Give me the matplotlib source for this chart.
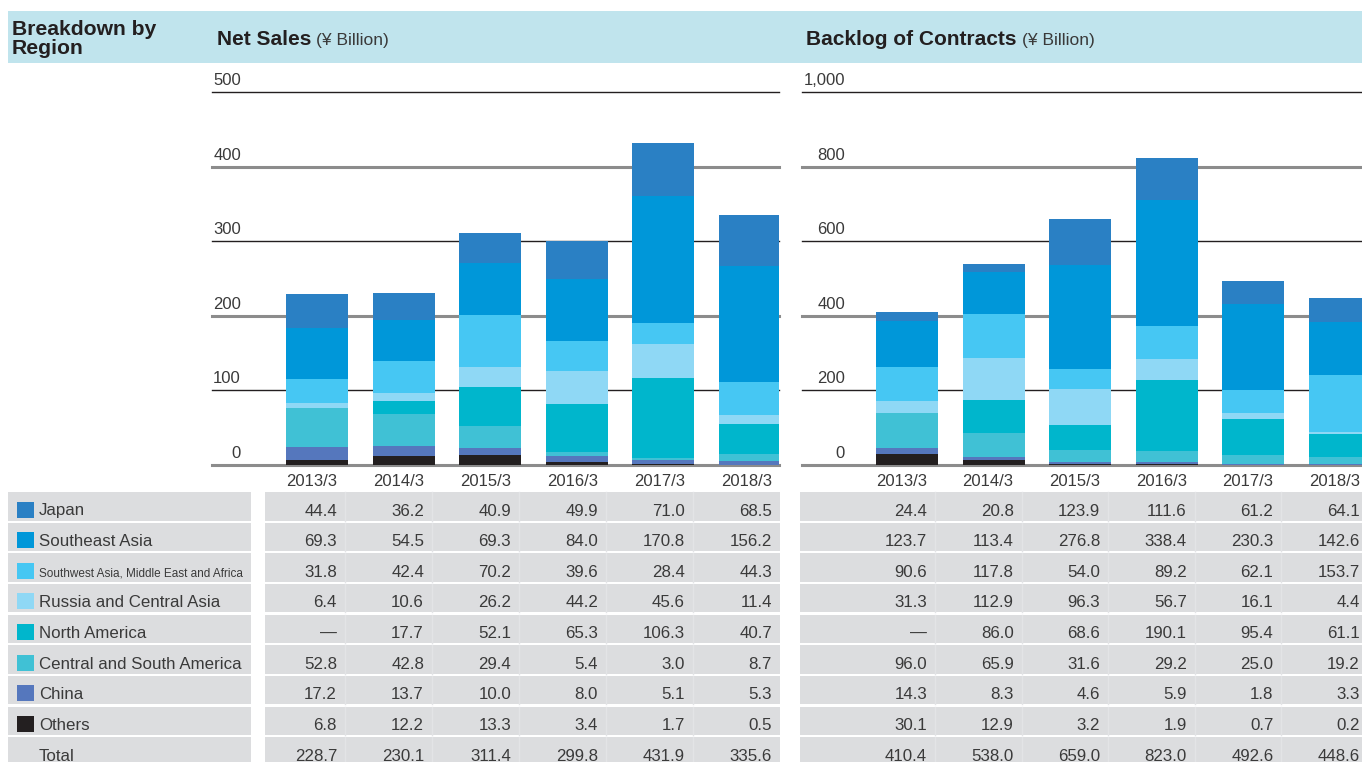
import matplotlib
matplotlib.use("Agg")
import matplotlib.pyplot as plt
import matplotlib.transforms as mtransforms
from matplotlib.patches import Rectangle

plt.rcParams["font.family"] = ["Liberation Sans", "DejaVu Sans"]

W, H = 1362, 762

years = ["2013/3", "2014/3", "2015/3", "2016/3", "2017/3", "2018/3"]
regions = [
    "Japan",
    "Southeast Asia",
    "Southwest Asia, Middle East and Africa",
    "Russia and Central Asia",
    "North America",
    "Central and South America",
    "China",
    "Others",
]
colors = ["#2a80c4", "#0097d9", "#46c7f3", "#8fd8f5",
          "#00b6cc", "#40c1d5", "#5577bd", "#231f20"]

# Net sales (billion yen)
sales_japan = [44.4, 36.2, 40.9, 49.9, 71.0, 68.5]
sales_se_asia = [69.3, 54.5, 69.3, 84.0, 170.8, 156.2]
sales_sw_asia = [31.8, 42.4, 70.2, 39.6, 28.4, 44.3]
sales_russia = [6.4, 10.6, 26.2, 44.2, 45.6, 11.4]
sales_n_america = [None, 17.7, 52.1, 65.3, 106.3, 40.7]
sales_cs_america = [52.8, 42.8, 29.4, 5.4, 3.0, 8.7]
sales_china = [17.2, 13.7, 10.0, 8.0, 5.1, 5.3]
sales_others = [6.8, 12.2, 13.3, 3.4, 1.7, 0.5]
sales_total = [228.7, 230.1, 311.4, 299.8, 431.9, 335.6]

# Backlog of contracts (billion yen)
backlog_japan = [24.4, 20.8, 123.9, 111.6, 61.2, 64.1]
backlog_se_asia = [123.7, 113.4, 276.8, 338.4, 230.3, 142.6]
backlog_sw_asia = [90.6, 117.8, 54.0, 89.2, 62.1, 153.7]
backlog_russia = [31.3, 112.9, 96.3, 56.7, 16.1, 4.4]
backlog_n_america = [None, 86.0, 68.6, 190.1, 95.4, 61.1]
backlog_cs_america = [96.0, 65.9, 31.6, 29.2, 25.0, 19.2]
backlog_china = [14.3, 8.3, 4.6, 5.9, 1.8, 3.3]
backlog_others = [30.1, 12.9, 3.2, 1.9, 0.7, 0.2]
backlog_total = [410.4, 538.0, 659.0, 823.0, 492.6, 448.6]

sales = [sales_japan, sales_se_asia, sales_sw_asia, sales_russia,
         sales_n_america, sales_cs_america, sales_china, sales_others]
backlog = [backlog_japan, backlog_se_asia, backlog_sw_asia, backlog_russia,
           backlog_n_america, backlog_cs_america, backlog_china, backlog_others]

TXT = "#3a3a3a"
DARK = "#231f20"
GRID_GRAY = "#8c8c8c"
HEADER = "#c0e4ed"
CELL = "#dcdddf"

fig = plt.figure(figsize=(W / 100, H / 100), dpi=100)

# full-figure pixel canvas for header and table
bg = fig.add_axes([0, 0, 1, 1], zorder=0)
bg.set_xlim(0, W)
bg.set_ylim(H, 0)
bg.axis("off")


def px_axes(x0, x1, y0, y1):
    return fig.add_axes([x0 / W, (H - y1) / H, (x1 - x0) / W, (y1 - y0) / H],
                        zorder=1)


# header bar
bg.add_patch(Rectangle((8, 11), W - 8, 52, color=HEADER, lw=0))
bg.text(12, 35, "Breakdown by", fontsize=15.2, fontweight="bold", color=DARK)
bg.text(12, 54, "Region", fontsize=15.2, fontweight="bold", color=DARK)


def draw_chart(series, x0, x1, first_center, step, ymax, ystep, label_right, fmt):
    ax = px_axes(x0, x1, 92, 465)
    ax.patch.set_alpha(0)
    ax.set_xlim((x0 - first_center) / step, (x1 - first_center) / step)
    ax.set_ylim(0, ymax)
    for s in ax.spines.values():
        s.set_visible(False)
    ax.set_xticks([])
    ax.set_yticks([])

    ticks = list(range(0, ymax + 1, ystep))
    lab_x = (label_right - first_center) / step
    off = mtransforms.offset_copy(ax.transData, fig=fig, y=4, units="dots")
    for k, v in enumerate(ticks):
        dark = k % 2 == 1
        ax.axhline(v, color=DARK if dark else GRID_GRAY,
                   lw=1.0 if dark else 2.2, zorder=0, clip_on=False)
        ax.text(lab_x, v, fmt(v), transform=off, ha="right", va="bottom",
                fontsize=12, color=TXT, clip_on=False)

    xs = list(range(len(years)))
    bottom = [0.0] * len(years)
    for vals, col in reversed(list(zip(series, colors))):
        h = [v or 0.0 for v in vals]
        ax.bar(xs, h, width=62 / step, bottom=bottom, color=col,
               lw=0, zorder=2)
        bottom = [b + v for b, v in zip(bottom, h)]
    return ax


ax1 = draw_chart(sales, 212, 779, 317, 86.5, 500, 100, 241, lambda v: f"{v}")
ax2 = draw_chart(backlog, 802, W, 907, 86.5, 1000, 200, 845, lambda v: f"{v:,}")

# chart titles
fig.canvas.draw()
rend = fig.canvas.get_renderer()
for x, title in [(217, "Net Sales"), (806, "Backlog of Contracts")]:
    t = bg.text(x, 45, title, fontsize=15, fontweight="bold", color=DARK)
    ext = t.get_window_extent(rend)
    bg.text(ext.x1 + 5, 45, "(¥ Billion)", fontsize=12.5, color=TXT)

# table
net_right = [337 + 87 * i for i in range(6)]
back_right = [927 + 86.6 * i for i in range(6)]
row_h = 30.65
rows = regions + ["Total"]
net_cols = sales + [sales_total]
back_cols = backlog + [backlog_total]

for i, xr in enumerate(net_right):
    bg.text(xr, 486, years[i], ha="right", va="baseline", fontsize=12, color=TXT)
for i, xr in enumerate(back_right):
    bg.text(xr, 486, years[i], ha="right", va="baseline", fontsize=12, color=TXT)

for r, name in enumerate(rows):
    top = 492 + row_h * r
    hgt = 28.5
    base = top + 23.5
    bg.add_patch(Rectangle((8, top), 243, hgt, color=CELL, lw=0))
    bg.add_patch(Rectangle((265, top), 515, hgt, color=CELL, lw=0))
    bg.add_patch(Rectangle((800, top), W - 800, hgt, color=CELL, lw=0))
    for xr in net_right[:-1] + back_right[:-1]:
        bg.plot([xr + 8, xr + 8], [top, top + hgt], color="#e3e4e6", lw=1)
    if r < len(regions):
        bg.add_patch(Rectangle((17, top + 9.5), 16.5, 16, color=colors[r], lw=0))
    if name.startswith("Southwest"):
        bg.text(39, base - 0.5, name, fontsize=8.5, color=TXT)
    else:
        bg.text(39, base, name, fontsize=12.2, color=TXT)
    for vals, rights in [(net_cols[r], net_right), (back_cols[r], back_right)]:
        for v, xr in zip(vals, rights):
            s = "—" if v is None else f"{v:.1f}"
            bg.text(xr, base, s, ha="right", fontsize=12.2, color=TXT)

fig.savefig("out.png", dpi=100)
